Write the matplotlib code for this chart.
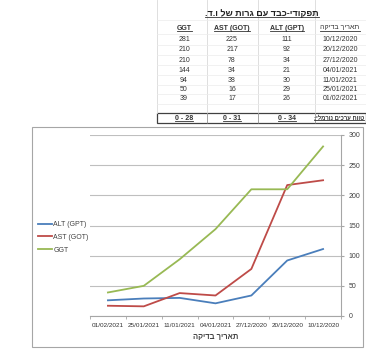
import matplotlib.pyplot as plt
import numpy as np
from matplotlib.lines import Line2D
from matplotlib.patches import Rectangle
from matplotlib.transforms import IdentityTransform


W, H = 366, 351

DATES = ["10/12/2020", "20/12/2020", "27/12/2020", "04/01/2021",
         "11/01/2021", "25/01/2021", "01/02/2021"]
ALT = [111, 92, 34, 21, 30, 29, 26]
AST = [225, 217, 78, 34, 38, 16, 17]
GGT = [281, 210, 210, 144, 94, 50, 39]
SERIES = ["ALT (GPT)", "AST (GOT)", "GGT"]
NORMAL_RANGE = ["0 - 34", "0 - 31", "0 - 28"]

TITLE = "תפקודי-כבד עם גרות של ו.ד."
DATE_HEADER = "תאריך בדיקה"
RANGE_LABEL = "טווח ערכים נורמלי:"

COLORS = ["#4A7EBB", "#BE4B48", "#98B954"]
FONT = ["Liberation Sans", "DejaVu Sans"]

plt.rcParams["font.family"] = FONT


def rtl(s):
    # matplotlib has no bidi support, so lay Hebrew out visually
    return s[::-1]


def fx(x):
    return x / W


def fy(y):
    return 1 - y / H


def underline(fig, texts, color="#333333"):
    fig.canvas.draw()
    r = fig.canvas.get_renderer()
    for t in texts:
        bb = t.get_window_extent(r)
        fig.add_artist(Line2D([bb.x0, bb.x1], [bb.y0 + 0.3, bb.y0 + 0.3],
                              transform=IdentityTransform(), color=color, lw=0.6))


def draw_table(fig):
    # faint sheet grid
    for x in [157, 207, 258, 315]:
        fig.add_artist(Line2D([fx(x), fx(x)], [fy(0), fy(113)],
                              color="#D9D9D9", lw=0.6))
    for y in [20, 34, 45, 55, 65, 75, 85, 94, 104]:
        fig.add_artist(Line2D([fx(157), fx(366)], [fy(y), fy(y)],
                              color="#ECECEC", lw=0.5))

    title = fig.text(fx(262), fy(13), rtl(TITLE), ha="center", va="center",
                     fontsize=6.5, fontweight="bold", color="#222222")

    col_x = [184, 232, 287]
    heads = []
    for x, name in zip(col_x, ["GGT", "AST (GOT)", "ALT (GPT)"]):
        heads.append(fig.text(fx(x), fy(28), name, ha="center", va="center",
                              fontsize=5, fontweight="bold", color="#333333"))
    heads.append(fig.text(fx(340), fy(28), rtl(DATE_HEADER), ha="center",
                          va="center", fontsize=5, color="#333333"))

    row_y = [39.5, 49.5, 60, 70, 80, 89.5, 99]
    for i, y in enumerate(row_y):
        for x, v in zip(col_x, [GGT[i], AST[i], ALT[i]]):
            fig.text(fx(x), fy(y), str(v), ha="center", va="center",
                     fontsize=5, color="#333333")
        fig.text(fx(340), fy(y), DATES[i], ha="center", va="center",
                 fontsize=5, color="#333333")

    # normal range row with a dark border
    fig.add_artist(Rectangle((fx(157), fy(123)), fx(366 - 157), 10 / H,
                             transform=fig.transFigure, fill=False,
                             edgecolor="#404040", lw=0.9))
    for x in [207, 258, 315]:
        fig.add_artist(Line2D([fx(x), fx(x)], [fy(113), fy(123)],
                              color="#808080", lw=0.5))
    rng = []
    for x, v in zip(col_x, NORMAL_RANGE[::-1]):
        rng.append(fig.text(fx(x), fy(118), v, ha="center", va="center",
                            fontsize=5, fontweight="bold", color="#333333"))
    rng.append(fig.text(fx(364), fy(118), rtl(RANGE_LABEL), ha="right",
                        va="center", fontsize=4.2, fontweight="bold",
                        color="#333333"))
    return [title] + heads + rng


def draw_chart(fig):
    fig.add_artist(Rectangle((fx(32), fy(347)), fx(363 - 32), (347 - 127) / H,
                             transform=fig.transFigure, facecolor="white",
                             edgecolor="#A6A6A6", lw=0.8, zorder=0))

    ax = fig.add_axes([fx(90), fy(316), fx(341 - 90), (316 - 135) / H])
    ax.set_zorder(2)
    ax.patch.set_alpha(0)
    x = np.arange(len(DATES))
    for vals, name, c in zip([ALT, AST, GGT], SERIES, COLORS):
        ax.plot(x, vals, color=c, lw=1.3, label=name, solid_joinstyle="round")

    ax.set_xlim(-0.5, len(DATES) - 0.5)
    ax.invert_xaxis()
    ax.set_ylim(0, 300)
    ax.set_yticks(range(0, 301, 50))
    ax.yaxis.tick_right()
    ax.grid(axis="y", color="#BFBFBF", lw=0.8)
    ax.set_axisbelow(True)

    ax.set_xticks(x, DATES)
    ax.set_xticks(np.arange(-0.5, len(DATES)), minor=True)
    ax.tick_params(axis="x", which="major", length=0, pad=5,
                   labelsize=4.6, labelcolor="#333333")
    ax.tick_params(axis="x", which="minor", length=2.5, color="#A6A6A6")
    ax.tick_params(axis="y", length=2.5, color="#A6A6A6", pad=3,
                   labelsize=5, labelcolor="#404040")

    for s in ["top", "left"]:
        ax.spines[s].set_visible(False)
    for s in ["right", "bottom"]:
        ax.spines[s].set_color("#A6A6A6")
        ax.spines[s].set_linewidth(0.8)

    ax.set_xlabel(rtl(DATE_HEADER), fontsize=5.5, fontweight="bold",
                  color="#404040", labelpad=4)

    ax.legend(loc="upper left", bbox_to_anchor=(fx(38), fy(221)),
              bbox_transform=fig.transFigure, frameon=False, fontsize=5,
              handlelength=2.0, handletextpad=0.2, labelspacing=0.85,
              borderpad=0, borderaxespad=0, labelcolor="#404040")
    return ax


def main():
    fig = plt.figure(figsize=(W / 100, H / 100), dpi=100)
    fig.patch.set_facecolor("white")
    texts = draw_table(fig)
    draw_chart(fig)
    underline(fig, texts)
    fig.savefig("out.png", dpi=100)
    plt.close(fig)


if __name__ == "__main__":
    main()
